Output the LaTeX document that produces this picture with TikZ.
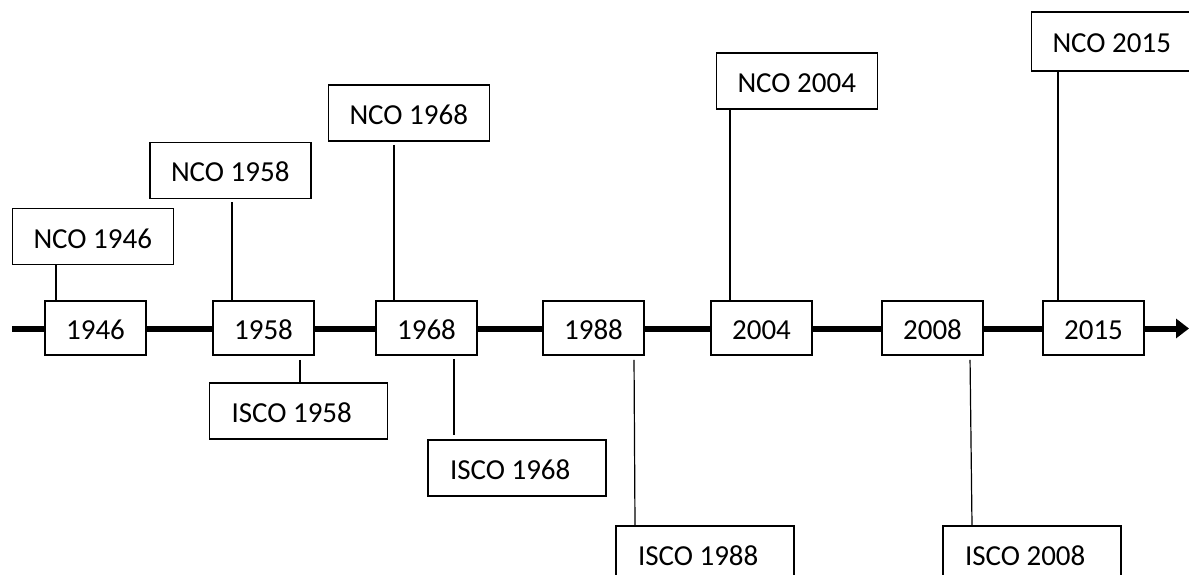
\documentclass[tikz,border=0pt]{standalone}
\usepackage{fontspec}
\setmainfont{Carlito}
\usetikzlibrary{arrows.meta}
\newcommand{\ncotext}[1]{\makebox[119pt][l]{#1}}
\newcommand{\iscotext}[1]{\makebox[134pt][l]{#1}}
\begin{document}
\begin{tikzpicture}[x=1pt,y=-1pt,
  lbl/.style={font=\fontsize{29}{31}\selectfont},
  yearbox/.style={lbl, draw, line width=1.7pt, minimum width=101pt, minimum height=54pt,
    inner sep=0pt, text height=23pt, text depth=0pt},
  ncobox/.style={lbl, draw, line width=1.7pt, inner xsep=21pt,
    inner ysep=0pt, minimum height=56pt, text height=23pt, text depth=0pt},
  iscobox/.style={lbl, draw, line width=1.7pt, inner xsep=22pt,
    inner ysep=0pt, minimum height=56pt, text height=23pt, text depth=0pt},
  conn/.style={line width=1.2pt},
  timeline/.style={line width=6pt}]
\useasboundingbox (0,0) rectangle (1189,575);

% year boxes on the time line
\node[yearbox] (y1946) at (95.5,328) {1946};
\node[yearbox] (y1958) at (263.5,328) {1958};
\node[yearbox] (y1968) at (426.5,328) {1968};
\node[yearbox] (y1988) at (593.5,328) {1988};
\node[yearbox] (y2004) at (761.5,328) {2004};
\node[yearbox] (y2008) at (932.5,328) {2008};
\node[yearbox] (y2015) at (1093.5,328) {2015};

% NCO boxes
\node[ncobox] (n1946) at (93,236.5) {\ncotext{NCO 1946}};
\node[ncobox] (n1958) at (230.5,170.5) {\ncotext{NCO 1958}};
\node[ncobox] (n1968) at (409,113) {\ncotext{NCO 1968}};
\node[ncobox] (n2004) at (797,81) {\ncotext{NCO 2004}};
\node[ncobox, minimum height=59pt] (n2015) at (1112,41.5) {\ncotext{NCO 2015}};

% ISCO boxes
\node[iscobox] (i1958) at (298.5,411) {\iscotext{ISCO 1958}};
\node[iscobox] (i1968) at (517,468) {\iscotext{ISCO 1968}};
\node[iscobox] (i1988) at (705,554) {\iscotext{ISCO 1988}};
\node[iscobox] (i2008) at (1032,554) {\iscotext{ISCO 2008}};

% time line
\coordinate (start) at (12,328.5);
\coordinate (tip) at (1189,328.5);
\draw[timeline] (start) -- (y1946.west |- start);
\draw[timeline] (y1946.east |- start) -- (y1958.west |- start);
\draw[timeline] (y1958.east |- start) -- (y1968.west |- start);
\draw[timeline] (y1968.east |- start) -- (y1988.west |- start);
\draw[timeline] (y1988.east |- start) -- (y2004.west |- start);
\draw[timeline] (y2004.east |- start) -- (y2008.west |- start);
\draw[timeline] (y2008.east |- start) -- (y2015.west |- start);
\draw[timeline, -{Triangle[length=13pt,width=19pt]}] (y2015.east |- start) -- (tip);

% NCO connectors
\draw[conn] ([xshift=-37pt]n1946.south) -- ([xshift=-39.5pt]y1946.north);
\draw[conn, shorten <=3pt] ([xshift=1.5pt]n1958.south) -- ([xshift=-31.5pt]y1958.north);
\draw[conn, shorten <=3pt] ([xshift=-15pt]n1968.south) -- ([xshift=-32.5pt]y1968.north);
\draw[conn] ([xshift=-67pt]n2004.south) -- ([xshift=-31.5pt]y2004.north);
\draw[conn] ([xshift=-54pt]n2015.south) -- ([xshift=-35.5pt]y2015.north);

% ISCO connectors
\draw[conn, shorten <=4pt] ([xshift=36.5pt]y1958.south) -- ([xshift=1.5pt]i1958.north);
\draw[conn, shorten <=3pt, shorten >=4pt] ([xshift=27.5pt]y1968.south) -- ([xshift=-63pt]i1968.north);
\draw[conn, shorten <=4pt] ([xshift=40.5pt]y1988.south) -- ([xshift=-70pt]i1988.north);
\draw[conn, shorten <=4pt] ([xshift=37.5pt]y2008.south) -- ([xshift=-60pt]i2008.north);
\end{tikzpicture}
\end{document}
